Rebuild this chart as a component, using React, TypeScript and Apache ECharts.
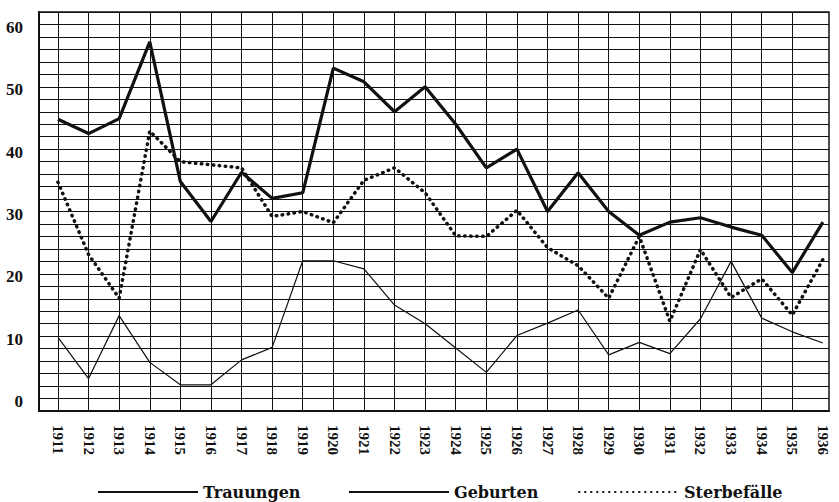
import React, { useEffect, useRef } from 'react';
import * as echarts from 'echarts';

const years = [1911, 1912, 1913, 1914, 1915, 1916, 1917, 1918, 1919, 1920, 1921, 1922, 1923, 1924, 1925, 1926, 1927, 1928, 1929, 1930, 1931, 1932, 1933, 1934, 1935, 1936];
const trauungen = [11.8, 5.2, 15.3, 7.8, 4.2, 4.2, 8.2, 10.2, 24.1, 24.1, 22.8, 17.0, 14.0, 10.1, 6.2, 12.1, 14.1, 16.2, 9.0, 11.0, 9.2, 14.8, 24.0, 14.9, 12.7, 10.9];
const geburten = [46.8, 44.5, 46.9, 59.2, 36.8, 30.4, 38.3, 34.1, 35.0, 55.0, 52.8, 48.0, 52.0, 46.0, 39.0, 42.0, 32.0, 38.2, 32.0, 28.2, 30.3, 31.0, 29.5, 28.2, 22.2, 30.3];
const sterbefaelle = [36.7, 25.1, 18.1, 44.9, 40.0, 39.5, 39.0, 31.2, 32.0, 30.2, 37.0, 39.0, 35.0, 28.1, 28.0, 32.2, 26.2, 23.3, 18.1, 28.0, 14.4, 25.9, 18.2, 21.2, 15.4, 24.3];
const yLabelValues = [0, 10, 20, 30, 40, 50, 60];
const seriesNames = ['Trauungen', 'Geburten', 'Sterbefälle'];
const gridYears = years.slice(0, -1);

const pairs = (vals: number[]) => vals.map((v, i) => [years[i], v]);

export default function App() {
  const ref = useRef<HTMLDivElement>(null);
  useEffect(() => {
    if (!ref.current) return;
    const chart = echarts.init(ref.current, null, { renderer: 'svg' });
    const ink = '#111';
    const legendText = { fontFamily: 'DejaVu Serif', fontWeight: 'bold', fontSize: 16, lineHeight: 18, color: ink };
    const legendBase = {
      top: 478,
      itemWidth: 100,
      itemHeight: 14,
      itemGap: 13,
      textStyle: legendText,
      selectedMode: false,
      itemStyle: { opacity: 0 },
    };
    chart.setOption({
      animation: false,
      backgroundColor: '#fff',
      grid: { left: 39, right: 10, top: 12, bottom: 91, show: true, borderColor: ink, borderWidth: 1.5, containLabel: false },
      legend: [
        { ...legendBase, data: [seriesNames[0]], left: 92 },
        { ...legendBase, data: [seriesNames[1]], left: 343 },
        { ...legendBase, data: [seriesNames[2]], left: 573 },
      ],
      xAxis: {
        type: 'value',
        min: 1910.38,
        max: 1936.2,
        splitLine: { show: false },
        axisTick: { show: false },
        axisLine: { show: true, lineStyle: { color: ink, width: 2 } },
        axisLabel: {
          customValues: years,
          rotate: -90,
          margin: 14,
          fontFamily: 'Liberation Serif',
          fontWeight: 'bold',
          fontSize: 15,
          color: ink,
          formatter: (v: number) => String(Math.round(v)),
        },
      },
      yAxis: {
        type: 'value',
        min: 0,
        max: 64,
        interval: 2,
        axisLine: { show: true, lineStyle: { color: ink, width: 2 } },
        axisTick: { show: false },
        splitLine: { show: true, lineStyle: { color: ink, width: 1 } },
        axisLabel: {
          margin: 16,
          verticalAlign: 'bottom',
          padding: [0, 0, 1, 0],
          fontFamily: 'Liberation Serif',
          fontWeight: 'bold',
          fontSize: 17,
          color: ink,
          formatter: (v: number) => (yLabelValues.includes(v) ? String(v) : ''),
        },
      },
      series: [
        {
          name: seriesNames[0],
          type: 'line',
          data: pairs(trauungen),
          symbol: 'none',
          lineStyle: { color: ink, width: 1.2 },
          itemStyle: { color: ink },
          markLine: {
            silent: true,
            symbol: 'none',
            label: { show: false },
            lineStyle: { color: ink, width: 1, type: 'solid' },
            data: gridYears.map((y) => ({ xAxis: y })),
          },
          z: 3,
        },
        {
          name: seriesNames[1],
          type: 'line',
          data: pairs(geburten),
          symbol: 'none',
          lineStyle: { color: ink, width: 3.2 },
          itemStyle: { color: ink },
          z: 4,
        },
        {
          name: seriesNames[2],
          type: 'line',
          data: pairs(sterbefaelle),
          symbol: 'none',
          lineStyle: { color: ink, width: 3.5, type: [0.5, 5.5], cap: 'round' },
          itemStyle: { color: ink },
          z: 4,
        },
      ],
    });
    return () => chart.dispose();
  }, []);
  return <div ref={ref} style={{ position: 'fixed', left: 0, top: 0, width: 839, height: 502 }} />;
}
